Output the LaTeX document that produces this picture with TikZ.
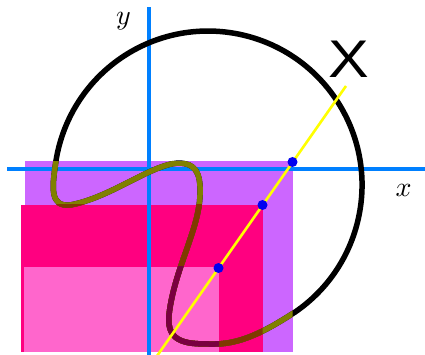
\documentclass[tikz,border=0pt]{standalone}
\usepackage{fontspec}
\newfontfamily\bigsans{Liberation Sans}
\definecolor{axisblue}{HTML}{0080FF}
\definecolor{rpurple}{HTML}{CC66FF}
\definecolor{rred}{HTML}{FF0080}
\definecolor{rpink}{HTML}{FF66CC}
\definecolor{colive}{HTML}{808000}
\definecolor{cbrown}{HTML}{7F3A00}
\definecolor{cmaroon}{HTML}{7A0040}
\definecolor{dotblue}{HTML}{0000F0}
\definecolor{lineyellow}{HTML}{FFFF00}
\newcommand\drawloop[1]{%
  \draw[curvestyle,#1] (294.6,312.4)
    arc[start angle=55.8, end angle=-171.9, radius=154]
    .. controls (52,188) and (50,207) .. (70,205)
    .. controls (110,198) and (150,165) .. (178,163)
    .. controls (195,163) and (201,172) .. (200,195)
    .. controls (199,230) and (174,270) .. (169,315)
    .. controls (166,345) and (190,344) .. (215,344)
    .. controls (245,344) and (273,326) .. (294.6,312.4) -- cycle;}
\begin{document}
\begin{tikzpicture}[x=1pt,y=-1pt,
  axis/.style={draw=axisblue,line width=4pt},
  curvestyle/.style={line width=5.5pt,line join=round},
  yline/.style={draw=lineyellow,line width=2.6pt},
  bdot/.style={circle,fill=dotblue,inner sep=0pt,minimum size=10pt},
  axlabel/.style={scale=2.8,inner sep=0pt}]
\useasboundingbox (0,0) rectangle (425,355);
% rectangles
\fill[rpurple] (25,161.5) rectangle (292.5,352);
\fill[rred] (21,205) rectangle (262.5,352);
\fill[rpink] (24,266.5) rectangle (219,352);
% axes
\coordinate (xl) at (7,169.5);
\coordinate (xr) at (425,169.5);
\coordinate (yb) at (149,355);
\coordinate (yt) at (149,7);
\draw[axis] (xl) -- (xr);
\draw[axis] (yb) -- (yt);
% closed curve
\drawloop{black}
\begin{scope}
  \clip (25,161.5) rectangle (292.5,352);
  \drawloop{colive}
\end{scope}
\begin{scope}
  \clip (21,205) rectangle (262.5,352);
  \drawloop{cbrown}
\end{scope}
\begin{scope}
  \clip (24,266.5) rectangle (219,352);
  \drawloop{cmaroon}
\end{scope}
% yellow line and points
\coordinate (ytop) at (346,86);
\coordinate (ybot) at (157,356);
\draw[yline] (ybot) -- (ytop);
\node[bdot] (p1) at (292.5,162) {};
\node[bdot] (p2) at (262.5,205) {};
\node[bdot] (p3) at (218.5,268) {};
% labels
\node[axlabel] (xlab) at (403.5,190) {$x$};
\node[axlabel] (ylab) at (123.5,21) {$y$};
\node[font=\bigsans,xscale=6.1,yscale=5.3,inner sep=0pt] (Xlab) at (349,59) {X};
\end{tikzpicture}
\end{document}
